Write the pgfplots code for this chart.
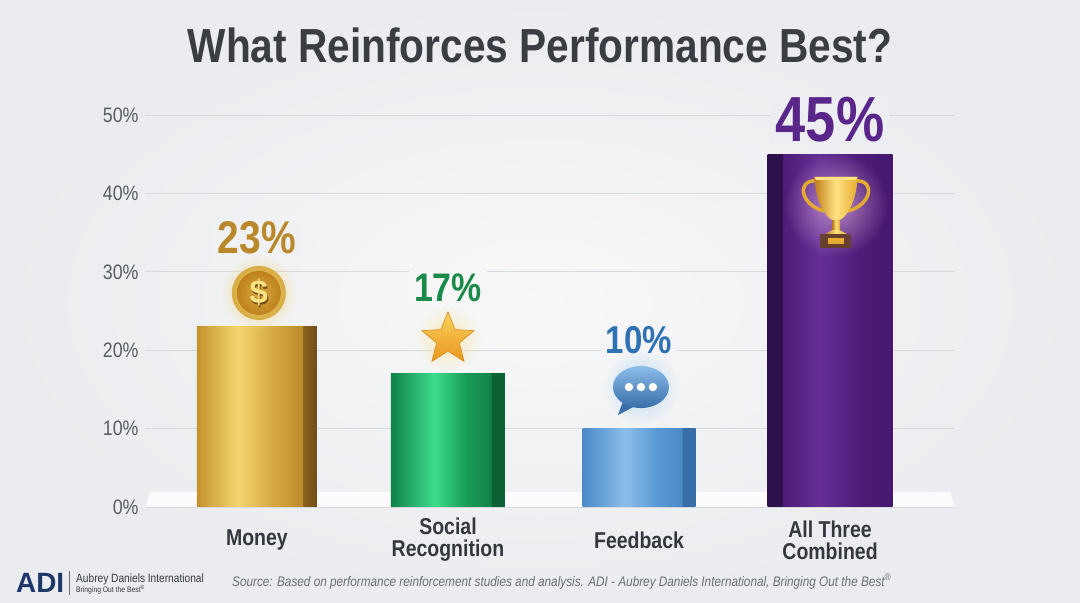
\documentclass[border=0pt]{standalone}
\usepackage{fontspec}
\setmainfont{Liberation Sans}[FakeStretch=0.85]
\newfontfamily\logofont{Liberation Sans}
\usepackage{pgfplots}
\pgfplotsset{compat=1.18}
\usetikzlibrary{shapes.geometric,fadings}

\tikzfading[name=glowfade, inner color=transparent!0, outer color=transparent!100]

\definecolor{bgin}{RGB}{248,248,249}
\definecolor{bgout}{RGB}{234,236,239}
\definecolor{bgA}{RGB}{240,241,243}
\definecolor{bgB}{RGB}{246,246,247}
\definecolor{bgC}{RGB}{245,245,247}
\definecolor{bgD}{RGB}{237,238,241}
\definecolor{gridgray}{RGB}{214,217,222}
\definecolor{titlegray}{RGB}{58,61,66}
\definecolor{tickgray}{RGB}{88,92,99}
\definecolor{labeldark}{RGB}{52,56,62}
\definecolor{srcgray}{RGB}{105,110,118}
\definecolor{navy}{RGB}{30,55,105}

\definecolor{goldA}{RGB}{196,146,44}
\definecolor{goldHi}{RGB}{244,214,110}
\definecolor{goldB}{RGB}{214,170,66}
\definecolor{goldC}{RGB}{190,140,42}
\definecolor{goldSide}{RGB}{140,98,30}
\definecolor{goldSideB}{RGB}{112,76,22}
\definecolor{goldtxt}{RGB}{184,136,42}

\definecolor{greenA}{RGB}{18,130,72}
\definecolor{greenHi}{RGB}{60,220,140}
\definecolor{greenB}{RGB}{24,156,86}
\definecolor{greenSide}{RGB}{12,98,52}
\definecolor{greentxt}{RGB}{26,138,74}

\definecolor{blueA}{RGB}{74,138,200}
\definecolor{blueHi}{RGB}{140,190,234}
\definecolor{blueB}{RGB}{88,152,212}
\definecolor{blueSide}{RGB}{56,110,168}
\definecolor{bluetxt}{RGB}{46,114,180}

\definecolor{purpSide}{RGB}{46,16,74}
\definecolor{purpA}{RGB}{78,28,120}
\definecolor{purpHi}{RGB}{102,46,150}
\definecolor{purpB}{RGB}{70,24,110}
\definecolor{purptxt}{RGB}{90,38,138}

\definecolor{trGold}{RGB}{230,172,48}
\definecolor{trLight}{RGB}{255,226,130}
\definecolor{trDark}{RGB}{190,128,28}
\definecolor{trBase}{RGB}{104,64,48}
\definecolor{trGlow}{RGB}{255,214,240}

\pgfdeclarehorizontalshading{goldbar}{100bp}{color(0bp)=(goldA); color(25bp)=(goldA);
  color(42bp)=(goldHi); color(56bp)=(goldB); color(68.9bp)=(goldC);
  color(69.1bp)=(goldSide); color(75bp)=(goldSideB); color(100bp)=(goldSideB)}
\pgfdeclarehorizontalshading{greenbar}{100bp}{color(0bp)=(greenA); color(25bp)=(greenA);
  color(44bp)=(greenHi); color(58bp)=(greenB); color(68.9bp)=(greenA);
  color(69.1bp)=(greenSide); color(75bp)=(greenSide); color(100bp)=(greenSide)}
\pgfdeclarehorizontalshading{bluebar}{100bp}{color(0bp)=(blueA); color(25bp)=(blueA);
  color(44bp)=(blueHi); color(58bp)=(blueB); color(68.9bp)=(blueA);
  color(69.1bp)=(blueSide); color(75bp)=(blueSide); color(100bp)=(blueSide)}
\pgfdeclarehorizontalshading{purpbar}{100bp}{color(0bp)=(purpSide); color(25bp)=(purpSide);
  color(30.9bp)=(purpSide); color(31.1bp)=(purpA); color(46bp)=(purpHi);
  color(62bp)=(purpA); color(75bp)=(purpB); color(100bp)=(purpB)}

\pgfplotsset{
  valuelabel/.style n args={4}{
    nodes near coords={\pgfmathprintnumber[assume math mode=true]{\pgfplotspointmeta}\%},
    every node near coord/.append style={font=\bfseries\fontsize{#1}{#1}\selectfont,
      text=#2, fill=#4, inner xsep=5bp, inner ysep=2bp, yshift=#3}},
}

\begin{document}
\begin{tikzpicture}
\path[use as bounding box] (0,0) rectangle (1080bp,603bp);
\shade[inner color=bgin, outer color=bgout] (0,0) rectangle (1080bp,603bp);
\node[anchor=base, font=\bfseries\fontsize{48}{48}\selectfont, text=titlegray]
  at (540bp,540bp) {What Reinforces Performance Best?};

\begin{axis}[
  at={(145bp,96bp)}, anchor=south west,
  scale only axis, width=810bp, height=392bp,
  xmin=-0.586, xmax=3.654, ymin=0, ymax=50,
  ytick={0,10,...,50},
  yticklabel={\pgfmathprintnumber[assume math mode=true]{\tick}\%},
  yticklabel style={font=\fontsize{21}{21}\selectfont, text=tickgray, xshift=-3bp},
  xtick={0,1,2,3},
  xticklabels={Money, Social\\Recognition, Feedback, All Three\\Combined},
  xticklabel style={font=\bfseries\fontsize{23}{22}\selectfont, text=labeldark,
    align=center, anchor=center, yshift=-33bp},
  axis line style={draw=none},
  major tick length=0pt,
  ymajorgrids, grid style={draw=gridgray, line width=0.9bp},
  clip=false,
]
% floor
\fill[white, opacity=0.85] (axis cs:-0.56,1.9) -- (axis cs:3.628,1.9)
  -- (axis cs:3.654,0) -- (axis cs:-0.586,0) -- cycle;

\addplot[ybar, bar width=120bp, bar shift=0pt, draw=none, shade, shading=goldbar,
  valuelabel={46}{goldtxt}{70bp}{bgA}] coordinates {(0,23)};
\addplot[ybar, bar width=114bp, bar shift=0pt, draw=none, shade, shading=greenbar,
  valuelabel={40}{greentxt}{70bp}{bgB}] coordinates {(1,17)};
\addplot[ybar, bar width=113bp, bar shift=0pt, draw=none, shade, shading=bluebar,
  valuelabel={39}{bluetxt}{73bp}{bgC}] coordinates {(2,10)};
\addplot[ybar, bar width=125bp, bar shift=0pt, draw=none, shade, shading=purpbar,
  valuelabel={64}{purptxt}{10bp}{bgD}] coordinates {(3,45)};

\coordinate (coin)   at (axis cs:0.01,27.3);
\coordinate (star)   at (axis cs:1.0,21.4);
\coordinate (bubble) at (axis cs:2.01,15.3);
\coordinate (trophy) at (axis cs:3.031,37.5);
\end{axis}

% coin
\begin{scope}[shift={(coin)}]
  \fill[goldHi, path fading=glowfade, fill opacity=0.9] (0,0) circle[radius=38bp];
  \shade[inner color=trLight, outer color=goldB] (0,0) circle[radius=27bp];
  \shade[inner color=goldB, outer color=trDark] (0,0) circle[radius=22bp];
  \node[font=\logofont\bfseries\fontsize{33}{33}\selectfont, text=goldSideB] at (1bp,-1.2bp) {\$};
  \node[font=\logofont\bfseries\fontsize{33}{33}\selectfont, text=trLight] at (0,0) {\$};
\end{scope}
% star
\begin{scope}[shift={(star)}]
  \fill[goldHi!60!white, path fading=glowfade, fill opacity=0.8] (0,0) circle[radius=34bp];
  \node[star, star points=5, star point ratio=2.3, minimum size=55bp, inner sep=0pt,
    top color={rgb,255:red,250;green,210;blue,92}, bottom color={rgb,255:red,232;green,150;blue,30},
    draw={rgb,255:red,214;green,140;blue,30}, line width=0.6bp] at (0,0) {};
\end{scope}
% speech bubble
\begin{scope}[shift={(bubble)}]
  \fill[blueHi!70!white, path fading=glowfade, fill opacity=0.8] (0,0) circle[radius=38bp];
  \fill[blueSide] (-17bp,-12bp) -- (-23bp,-28bp) -- (-4bp,-18bp) -- cycle;
  \shade[top color=blueHi, bottom color=blueSide] (0,0) ellipse[x radius=28bp, y radius=21bp];
  \fill[white] (-12bp,0) circle[radius=4.2bp];
  \fill[white] (0bp,0) circle[radius=4.2bp];
  \fill[white] (12bp,0) circle[radius=4.2bp];
\end{scope}
% trophy
\begin{scope}[shift={(trophy)}]
  \fill[trGlow, path fading=glowfade, fill opacity=0.55] (0,8bp) circle[radius=52bp];
  % handles
  \draw[trGold, line width=3.5bp] (-19bp,32bp) .. controls (-40bp,34bp) and (-36bp,8bp) .. (-12bp,2bp);
  \draw[trGold, line width=3.5bp] (19bp,32bp) .. controls (40bp,34bp) and (36bp,8bp) .. (12bp,2bp);
  % cup
  \shade[left color=trDark, right color=trGold, middle color=trLight]
    (-21.5bp,36bp) -- (21.5bp,36bp) .. controls (21bp,14bp) and (12bp,-3bp) .. (4bp,-7bp)
    -- (-4bp,-7bp) .. controls (-12bp,-3bp) and (-21bp,14bp) .. (-21.5bp,36bp) -- cycle;
  \fill[trLight] (-21.5bp,36bp) -- (21.5bp,36bp) -- (20bp,33bp) -- (-20bp,33bp) -- cycle;
  % stem and foot
  \shade[left color=trDark, right color=trGold, middle color=trLight]
    (-3.5bp,-7bp) rectangle (3.5bp,-17bp);
  \shade[left color=trDark, right color=trGold, middle color=trLight]
    (-3.5bp,-17bp) -- (3.5bp,-17bp) -- (11bp,-21bp) -- (-11bp,-21bp) -- cycle;
  % base
  \fill[trBase] (-15.5bp,-21bp) rectangle (15.5bp,-35bp);
  \fill[trGold] (-8bp,-25bp) rectangle (8bp,-31bp);
\end{scope}

% footer
\node[anchor=base west, font=\logofont\bfseries\fontsize{28}{28}\selectfont, text=navy, inner sep=0pt]
  at (16bp,11bp) {ADI};
\draw[srcgray, line width=0.6bp] (69bp,32bp) -- (69bp,8bp);
\node[anchor=base west, font=\fontsize{12}{12}\selectfont, text=labeldark, inner sep=0pt]
  at (76bp,21bp) {Aubrey Daniels International};
\node[anchor=base west, font=\fontsize{8}{8}\selectfont, text=labeldark, inner sep=0pt]
  at (76bp,11bp) {Bringing Out the Best\textsuperscript{®}};
\node[anchor=base west, font=\itshape\fontsize{13.9}{13.9}\selectfont, text=srcgray, inner sep=0pt]
  at (232bp,17bp) {Source: Based on performance reinforcement studies and analysis. ADI - Aubrey Daniels International, Bringing Out the Best\textsuperscript{®}};
\end{tikzpicture}
\end{document}
